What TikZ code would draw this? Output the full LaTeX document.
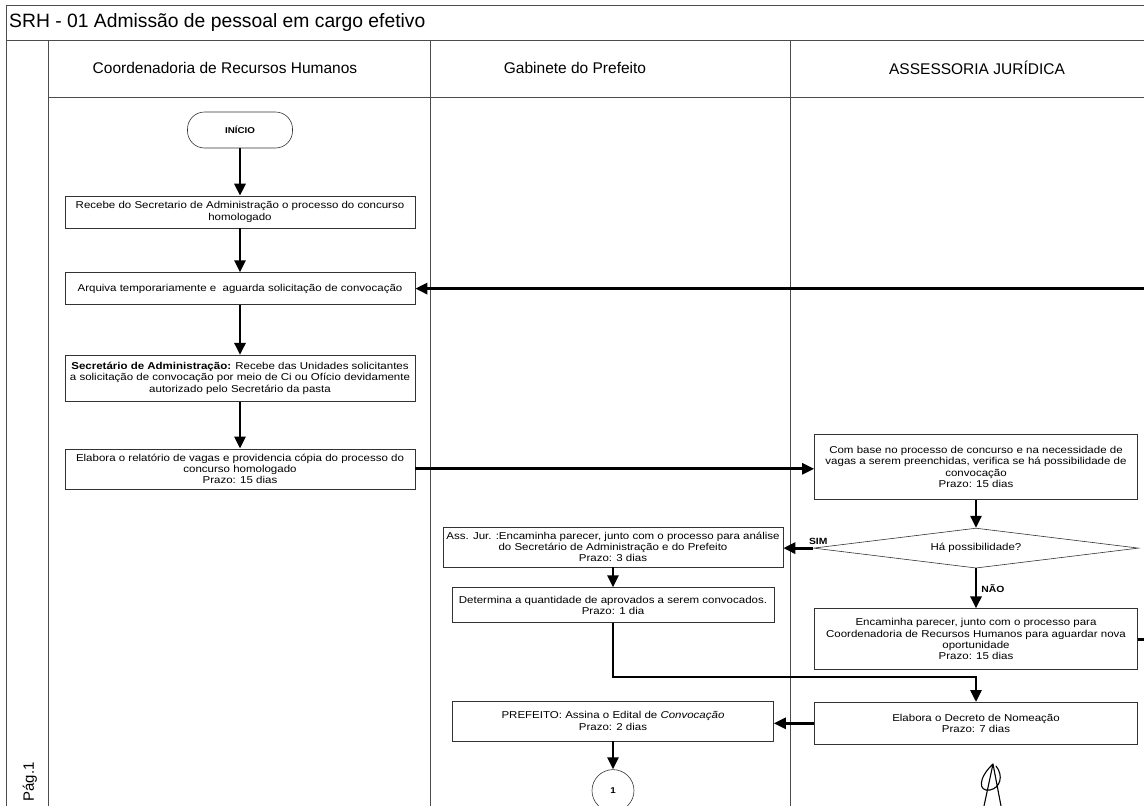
\documentclass[tikz,border=0pt]{standalone}
\usepackage{fontspec}
\setmainfont{Liberation Sans}
\newfontfamily\boxfont[FakeStretch=1.15]{Liberation Sans}
\usetikzlibrary{
    positioning,                      % below=of, etc.
    arrows.meta,                      % pontas Triangle
    shapes.geometric,                 % diamond
    calc                              % coordenadas
}
\tikzset{
    block/.style={
        rectangle, draw=black!80, line width=0.6pt,
        minimum width=350pt,
        align=center, font=\boxfont\fontsize{10}{11.2}\selectfont,
        inner sep=2pt
    },
    decision/.style={
        diamond, draw=black!80, line width=0.6pt, aspect=8,
        minimum width=325pt, minimum height=40pt,
        align=center, font=\boxfont\fontsize{10}{11.2}\selectfont,
        inner sep=0pt
    },
    terminal/.style={
        rectangle, rounded corners=17pt, draw=black!80, line width=0.6pt,
        minimum width=105pt, minimum height=36pt,
        font=\boxfont\bfseries\fontsize{8.5}{9}\selectfont
    },
    pageref/.style={
        circle, draw=black!80, line width=0.6pt, minimum size=42pt,
        font=\boxfont\bfseries\fontsize{8.5}{9}\selectfont
    },
    arrow/.style={
        -{Triangle[length=12pt,width=11pt]}, line width=2.8pt
    },
    lane/.style={
        draw=black!70, line width=0.7pt
    },
    header/.style={
        font=\fontsize{15.5}{18}\selectfont
    },
    choice/.style={
        font=\boxfont\bfseries\fontsize{9}{10}\selectfont, inner sep=2pt
    }
}

\begin{document}
\begin{tikzpicture}[x=1pt, y=-1pt]
    \useasboundingbox (0,0) rectangle (1144,806);

    % --- Moldura e raias ---
    \draw[lane] (6,5) -- (1170,5);
    \draw[lane] (6,40) -- (1170,40);
    \draw[lane] (48,97) -- (1170,97);
    \draw[lane] (6,5) -- (6,820);
    \foreach \xpos in {48, 430, 790}
        \draw[lane] (\xpos,40) -- (\xpos,820);

    \node[anchor=west, font=\fontsize{19.3}{22}\selectfont, inner sep=0pt] (title) at (9,23)
        {SRH - 01 Admissão de pessoal em cargo efetivo};
    \node[header] (crh) at (225,68) {Coordenadoria de Recursos Humanos};
    \node[header] (gab) at (575,68) {Gabinete do Prefeito};
    \node[header] (ajur) at (977,68) {ASSESSORIA JURÍDICA};
    \node[header, rotate=90, font=\fontsize{15}{18}\selectfont] (pag) at (30,782) {Pág.1};

    % --- Coordenadoria de Recursos Humanos ---
    \node[terminal] (ini) at (240,130) {INÍCIO};
    \node[block, minimum height=32pt] (b1) at (240,212)
        {Recebe do Secretario de Administração o processo do concurso\\homologado};
    \node[block, minimum height=32pt, below=44pt of b1] (b2)
        {Arquiva temporariamente e \ aguarda solicitação de convocação};
    \node[block, minimum height=46pt, below=50pt of b2] (b3)
        {\textbf{Secretário de Administração:} Recebe das Unidades solicitantes\\
         a solicitação de convocação por meio de Ci ou Ofício devidamente\\
         autorizado pelo Secretário da pasta};
    \node[block, minimum height=40pt, below=47pt of b3] (b4)
        {Elabora o relatório de vagas e providencia cópia do processo do\\
         concurso homologado\\Prazo: 15 dias};

    % --- Assessoria Juridica ---
    \node[block, minimum width=323pt, minimum height=65pt] (a1) at (976,467)
        {Com base no processo de concurso e na necessidade de\\
         vagas a serem preenchidas, verifica se há possibilidade de\\
         convocação\\Prazo: 15 dias};
    \node[decision, below=28pt of a1] (dec) {Há possibilidade?};
    \node[block, minimum width=323pt, minimum height=61pt, below=40pt of dec] (a3)
        {Encaminha parecer, junto com o processo para\\
         Coordenadoria de Recursos Humanos para aguardar nova\\
         oportunidade\\Prazo: 15 dias};
    \node[block, minimum width=323pt, minimum height=42pt, below=32pt of a3] (a4)
        {Elabora o Decreto de Nomeação\\Prazo: 7 dias};

    % --- Gabinete do Prefeito ---
    \node[block, minimum width=340pt, minimum height=40pt] (g1) at (613,547)
        {Ass. Jur. :Encaminha parecer, junto com o processo para análise\\
         do Secretário de Administração e do Prefeito\\Prazo: 3 dias};
    \node[block, minimum width=322pt, minimum height=35pt, below=20pt of g1] (g2)
        {Determina a quantidade de aprovados a serem convocados.\\Prazo: 1 dia};
    \node[block, minimum width=321pt, minimum height=40pt] (pref) at (613,721)
        {PREFEITO: Assina o Edital de \textit{Convocação}\\Prazo: 2 dias};
    \node[pageref, below=28pt of pref] (p1) {1};

    % --- Conexoes ---
    \draw[arrow] (ini) -- (b1);
    \draw[arrow] (b1) -- (b2);
    \draw[arrow] (b2) -- (b3);
    \draw[arrow] (b3) -- (b4);
    \draw[arrow] (b4.east) -- (b4.east -| a1.west);
    \draw[arrow] (a1) -- (dec);
    \draw[arrow] (dec.west) -- (dec.west -| g1.east)
        node[choice, pos=0, above, xshift=5pt] {SIM};
    \draw[arrow] (dec) -- (a3)
        node[choice, midway, right, xshift=2pt] {NÃO};
    \draw[arrow] (g1) -- (g2);

    % Retorno para o arquivo (sai da pagina a direita)
    \coordinate (edge) at (1162,0);
    \draw[arrow] (a3.east) -- (a3.east -| edge) |- (b2.east);

    \coordinate (elbow) at (0,677);
    \draw[arrow] (g2.south) -- (g2.south |- elbow) -| (a4.north);
    \draw[arrow] (a4.west) -- (a4.west -| pref.east);
    \draw[arrow] (pref) -- (p1);

    % rubrica
    \draw[line width=1.1pt, line cap=round, line join=round]
        (984,806) -- (993,764) -- (1001,806)
        (993,764) .. controls (978,778) and (978,792) .. (990,790)
        .. controls (1000,788) and (1004,776) .. (996,766);
\end{tikzpicture}
\end{document}
